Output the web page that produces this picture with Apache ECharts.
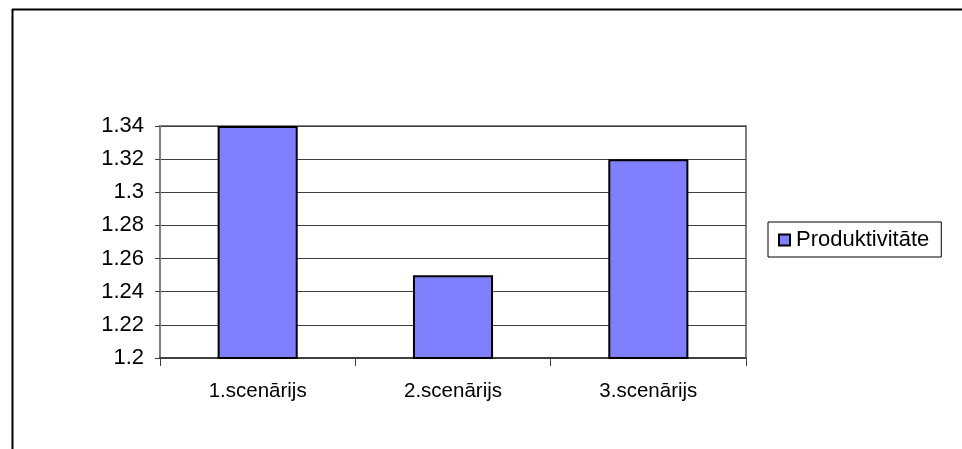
<!DOCTYPE html>
<html>
<head>
  <meta charset="utf-8" />
  <title>Produktivitāte</title>
  <script src="https://cdn.jsdelivr.net/npm/echarts@6/dist/echarts.min.js"></script>
  <style>
    html, body { margin: 0; padding: 0; background: #fff; }
  </style>
</head>
<body>
  <div id="main" style="width: 962px;height:449px;"></div>
  <script type="text/javascript">
    // dati
    var categories = ['1.scenārijs', '2.scenārijs', '3.scenārijs'];
    var values = [1.34, 1.25, 1.32];
    var seriesName = 'Produktivitāte';

    var myChart = echarts.init(document.getElementById('main'));

    var font = 'Arial, "Liberation Sans", sans-serif';

    var option = {
      animation: false,
      textStyle: { fontFamily: font },
      graphic: [
        // ārējais rāmis
        { type: 'line', shape: { x1: 12, y1: 9.5, x2: 962, y2: 9.5 }, style: { stroke: '#000', lineWidth: 2 } },
        { type: 'line', shape: { x1: 12.5, y1: 9, x2: 12.5, y2: 449 }, style: { stroke: '#000', lineWidth: 2 } }
      ],
      grid: {
        left: 160,
        top: 126,
        width: 586,
        height: 232,
        show: true,
        borderColor: '#808080',
        borderWidth: 2
      },
      legend: {
        data: [seriesName],
        left: 768,
        top: 222,
        orient: 'vertical',
        icon: 'rect',
        itemWidth: 11,
        itemHeight: 11,
        itemGap: 0,
        padding: [7, 12, 6, 10],
        borderColor: '#000',
        borderWidth: 1,
        textStyle: { fontSize: 22, color: '#000', fontFamily: font, padding: [0, 0, 0, 1] }
      },
      xAxis: {
        type: 'category',
        data: categories,
        axisLine: { lineStyle: { color: '#404040', width: 2 } },
        axisTick: { show: true, length: 8, lineStyle: { color: '#404040' } },
        axisLabel: { color: '#000', fontSize: 20.5, margin: 23, fontFamily: font }
      },
      yAxis: {
        type: 'value',
        min: 1.2,
        max: 1.34,
        interval: 0.02,
        axisLine: { show: true, lineStyle: { color: '#808080', width: 2 } },
        axisTick: { show: true, length: 5, lineStyle: { color: '#404040' } },
        splitLine: { lineStyle: { color: '#404040', width: 1 } },
        axisLabel: { color: '#000', fontSize: 22, margin: 16, fontFamily: font }
      },
      series: [{
        name: seriesName,
        type: 'bar',
        data: values,
        barWidth: '41%',
        itemStyle: { color: '#8080FF', borderColor: '#000', borderWidth: 2 }
      }]
    };
    myChart.setOption(option);
  </script>
</body>
</html>
